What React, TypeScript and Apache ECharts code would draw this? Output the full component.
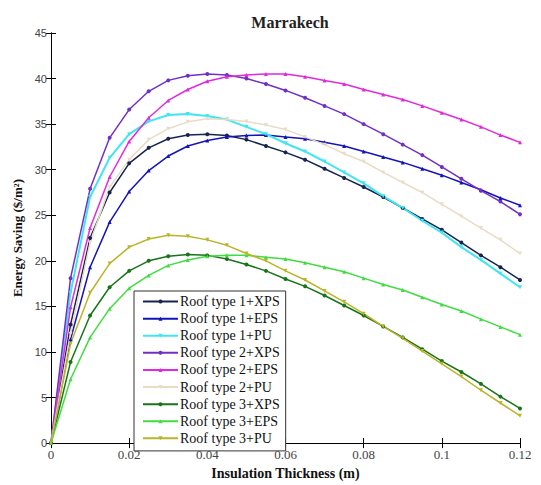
import React, { useEffect, useRef } from "react";
import * as echarts from "echarts";

const thickness = [0, 0.005, 0.01, 0.015, 0.02, 0.025, 0.03, 0.035, 0.04, 0.045, 0.05, 0.055, 0.06, 0.065, 0.07, 0.075, 0.08, 0.085, 0.09, 0.095, 0.1, 0.105, 0.11, 0.115, 0.12];

const seriesNames = [
  "Roof type 1+XPS", "Roof type 1+EPS", "Roof type 1+PU",
  "Roof type 2+XPS", "Roof type 2+EPS", "Roof type 2+PU",
  "Roof type 3+XPS", "Roof type 3+EPS", "Roof type 3+PU",
];

const roof1XPS = [0, 13.0, 22.5, 27.5, 30.7, 32.4, 33.4, 33.8, 33.9, 33.75, 33.3, 32.6, 31.9, 31.1, 30.1, 29.1, 28.1, 27.0, 25.8, 24.6, 23.4, 22.0, 20.6, 19.3, 17.9];
const roof1EPS = [0, 11.4, 19.3, 24.25, 27.6, 29.9, 31.5, 32.6, 33.2, 33.6, 33.75, 33.8, 33.6, 33.4, 33.0, 32.6, 32.0, 31.4, 30.8, 30.1, 29.4, 28.6, 27.8, 26.9, 26.1];
const roof1PU = [0, 16.5, 27.0, 31.3, 33.9, 35.3, 36.0, 36.1, 35.9, 35.5, 34.7, 33.9, 32.9, 32.0, 30.9, 29.7, 28.5, 27.1, 25.8, 24.4, 23.1, 21.5, 20.1, 18.6, 17.1];
const roof2XPS = [0, 18.1, 27.9, 33.5, 36.6, 38.6, 39.8, 40.3, 40.5, 40.4, 40.0, 39.4, 38.7, 37.9, 37.0, 36.1, 35.0, 33.9, 32.75, 31.6, 30.3, 29.0, 27.7, 26.5, 25.1];
const roof2EPS = [0, 14.9, 23.6, 29.2, 33.1, 35.7, 37.6, 38.8, 39.7, 40.2, 40.4, 40.5, 40.5, 40.2, 39.8, 39.4, 38.8, 38.25, 37.7, 37.0, 36.25, 35.5, 34.7, 33.8, 33.0];
const roof2PU = [0, 12.0, 22.0, 28.1, 31.1, 33.3, 34.5, 35.25, 35.6, 35.5, 35.3, 34.9, 34.4, 33.6, 32.75, 31.75, 30.9, 29.7, 28.6, 27.5, 26.2, 24.9, 23.6, 22.3, 20.8];
const roof3XPS = [0, 8.9, 14.0, 17.1, 18.9, 20.0, 20.5, 20.7, 20.6, 20.2, 19.6, 18.9, 18.0, 17.2, 16.2, 15.1, 14.0, 12.8, 11.6, 10.3, 9.0, 7.8, 6.5, 5.1, 3.8];
const roof3EPS = [0, 7.0, 11.6, 14.75, 17.0, 18.4, 19.5, 20.1, 20.5, 20.6, 20.6, 20.4, 20.2, 19.8, 19.3, 18.8, 18.1, 17.4, 16.8, 16.0, 15.2, 14.5, 13.6, 12.75, 11.9];
const roof3PU = [0, 10.9, 16.5, 19.7, 21.5, 22.4, 22.8, 22.7, 22.3, 21.7, 20.8, 20.0, 18.9, 17.9, 16.7, 15.5, 14.2, 12.8, 11.5, 10.1, 8.7, 7.3, 5.8, 4.4, 3.0];

const seriesValues = [roof1XPS, roof1EPS, roof1PU, roof2XPS, roof2EPS, roof2PU, roof3XPS, roof3EPS, roof3PU];
const seriesColors = ["#16244f", "#1414b8", "#3fe6f2", "#7030c4", "#e02ade", "#e8dcc6", "#187418", "#40dc40", "#bab428"];
const downTri = "path://M0,0 L10,0 L5,9 Z";
const seriesSymbols = ["circle", "triangle", downTri, "circle", "triangle", downTri, "circle", "triangle", downTri];

const xTicks = [0, 0.02, 0.04, 0.06, 0.08, 0.1, 0.12];

const SERIF = "'Times New Roman', 'Liberation Serif', 'DejaVu Serif', serif";
const SANS = "Arial, 'Liberation Sans', sans-serif";

export default function App() {
  const ref = useRef<HTMLDivElement>(null);
  useEffect(() => {
    if (!ref.current) return;
    const chart = echarts.init(ref.current, null, { renderer: "svg" });
    const axisLine = { show: true, lineStyle: { color: "#000", width: 1 } };
    const tickIn = { show: true, inside: true, length: 5, lineStyle: { color: "#000" } };
    chart.setOption({
      animation: false,
      backgroundColor: "#fff",
      title: {
        text: "Marrakech",
        left: 285,
        top: 9,
        textAlign: "center",
        textStyle: { fontFamily: SERIF, fontWeight: "bold", fontSize: 16, color: "#222" },
      },
      grid: { left: 51, right: 21, top: 33, bottom: 33, containLabel: false },
      legend: {
        data: seriesNames,
        orient: "vertical",
        left: 134,
        top: 291,
        padding: [2, 6, 4, 8],
        itemWidth: 35,
        itemHeight: 5,
        itemGap: 0,
        backgroundColor: "#fff",
        borderColor: "#333",
        borderWidth: 1,
        borderRadius: 0,
        textStyle: { fontFamily: SERIF, fontSize: 14, color: "#111", lineHeight: 17.1, padding: [0, 0, 0, -3] },
      },
      xAxis: [
        {
          type: "value",
          min: 0,
          max: 0.12,
          interval: 0.02,
          name: "Insulation Thickness (m)",
          nameLocation: "middle",
          nameGap: 19,
          nameTextStyle: { fontFamily: SERIF, fontWeight: "bold", fontSize: 14, color: "#111" },
          axisLine,
          axisTick: tickIn,
          splitLine: { show: false },
          axisLabel: {
            margin: 5,
            fontFamily: SERIF,
            fontSize: 13,
            color: "#444",
            formatter: (v: number) => {
              const t = xTicks.find((k) => Math.abs(k - v) < 1e-9);
              return String(t !== undefined ? t : +v.toFixed(2));
            },
          },
        },
        {
          type: "value",
          position: "top",
          min: 0,
          max: 0.12,
          interval: 0.02,
          axisLine,
          axisTick: tickIn,
          axisLabel: { show: false },
          splitLine: { show: false },
        },
      ],
      yAxis: [
        {
          type: "value",
          min: 0,
          max: 45,
          interval: 5,
          name: "Energy Saving ($/m\u00b2)",
          nameLocation: "middle",
          nameGap: 27,
          nameTextStyle: { fontFamily: SERIF, fontWeight: "bold", fontSize: 13, color: "#111" },
          axisLine,
          axisTick: tickIn,
          splitLine: { show: false },
          axisLabel: { margin: 4, fontFamily: SANS, fontSize: 11, color: "#444" },
        },
        {
          type: "value",
          position: "right",
          min: 0,
          max: 45,
          interval: 5,
          axisLine,
          axisTick: tickIn,
          axisLabel: { show: false },
          splitLine: { show: false },
        },
      ],
      series: seriesNames.map((name, i) => ({
        name,
        type: "line",
        xAxisIndex: 0,
        yAxisIndex: 0,
        data: thickness.map((x, j) => [x, seriesValues[i][j]]),
        symbol: seriesSymbols[i],
        symbolSize: 4,
        showSymbol: true,
        color: seriesColors[i],
        lineStyle: { width: i === 2 ? 2 : 1.5, color: seriesColors[i] },
        itemStyle: { color: seriesColors[i] },
      })),
    });
    return () => chart.dispose();
  }, []);
  return <div ref={ref} style={{ position: "fixed", left: 0, top: 0, width: 541, height: 485 }} />;
}
